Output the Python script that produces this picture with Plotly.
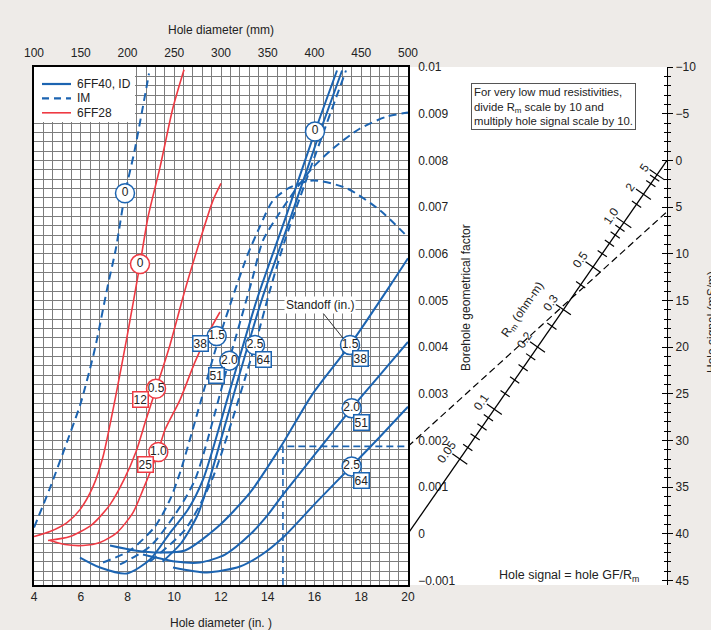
import math
import plotly.graph_objects as go

# ---------------- data ----------------
# hole diameter in inches, borehole geometrical factor (GF)
im0_in = [4.0, 4.7, 5.4, 6.0, 6.6, 7.15, 7.5, 7.9, 8.3, 8.92]
im0_gf = [0.00013, 0.0010, 0.00195, 0.0028, 0.00395, 0.0053, 0.0061, 0.0073, 0.0082, 0.00986]

r0_in = [4.0, 4.684, 5.412, 5.968, 6.524, 6.952, 7.465, 7.979, 8.535, 8.877, 9.390, 9.947, 10.417]
r0_gf = [-0.000062, 0.000045, 0.000237, 0.000515, 0.001007, 0.001649, 0.002868, 0.004215, 0.005776, 0.006781, 0.007848, 0.009131, 0.009943]

r05_in = [4.599, 5.540, 6.481, 7.251, 7.850, 8.364, 8.791, 9.219, 9.818, 10.460, 11.102, 11.658, 12.000]
r05_gf = [-0.000147, -0.000062, 0.000194, 0.000622, 0.001156, 0.001755, 0.002440, 0.003103, 0.004045, 0.005221, 0.006287, 0.007142, 0.007506]

r10_in = [4.684, 5.326, 6.096, 6.824, 7.551, 8.235, 8.663, 9.305, 9.604, 10.246, 10.888, 11.529, 11.957]
r10_gf = [-0.000147, -0.000233, -0.000254, -0.000190, 0.000024, 0.000451, 0.000943, 0.001756, 0.002226, 0.002868, 0.003681, 0.004365, 0.004750]

s15_in = [7.251, 8.321, 9.390, 10.460, 11.829, 13.241, 14.610, 15.893, 17.519, 19.358, 20.0]
s15_gf = [-0.000254, -0.000361, -0.000404, -0.000361, 0.000130, 0.000878, 0.001906, 0.002975, 0.004045, 0.005410, 0.005902]

s20_in = [8.663, 10.032, 11.102, 12.171, 13.241, 14.011, 14.652, 16.107, 17.604, 18.802, 20.0]
s20_gf = [-0.000447, -0.000596, -0.000618, -0.000447, -0.000019, 0.000409, 0.000836, 0.001756, 0.002697, 0.003403, 0.004109]

s25_in = [9.947, 11.401, 12.813, 13.754, 14.652, 16.107, 17.604, 18.802, 20.0]
s25_gf = [-0.000725, -0.000832, -0.000703, -0.000447, -0.000083, 0.000687, 0.001456, 0.002077, 0.002719]

sa_in = [5.968, 6.824, 7.979, 8.963, 9.818, 10.588, 11.230, 12.385, 13.540, 14.738, 16.021, 16.963]
sa_gf = [-0.000511, -0.000725, -0.000853, -0.000553, 0.000019, 0.000516, 0.001156, 0.003082, 0.005024, 0.006735, 0.008618, 0.009925]

sb_in = [9.5, 10.3, 11.0, 11.5, 12.6, 13.75, 14.95, 16.24, 17.18]
sb_gf = [-0.0006, -0.0002, 0.0004, 0.00115, 0.00308, 0.005024, 0.006735, 0.008618, 0.009925]

im15_in = [6.952, 8.107, 9.176, 9.818, 10.246, 11.273, 11.786, 12.470, 13.112, 13.668, 14.225, 14.952, 15.936, 17.390, 18.802, 20.0]
im15_gf = [-0.000618, -0.000361, 0.000152, 0.000730, 0.001306, 0.003082, 0.003980, 0.005024, 0.005943, 0.006585, 0.007142, 0.007420, 0.007570, 0.007399, 0.006928, 0.006351]

im20_in = [7.679, 8.963, 10.032, 10.888, 12.342, 13.326, 13.797, 14.439, 15.166, 15.893, 16.791, 17.947, 19.102, 20.0]
im20_gf = [-0.000660, -0.000275, 0.000409, 0.001156, 0.003702, 0.005432, 0.006287, 0.006822, 0.007356, 0.007827, 0.008254, 0.008682, 0.008939, 0.009024]

im25_in = [8.963, 10.460, 11.615, 13.455, 14.096, 14.738, 17.348]
im25_gf = [-0.000596, 0.000083, 0.001156, 0.004045, 0.005219, 0.006287, 0.009925]

# standoff labels: circles (inches) and boxes (mm)
circ_text = ["0", "0", "0.5", "1.0", "1.5", "2.0", "2.5", "0", "1.5", "2.0", "2.5"]
circ_in = [7.893, 8.535, 9.219, 9.318, 11.816, 12.355, 13.455, 16.021, 17.519, 17.591, 17.591]
circ_gf = [0.007295, 0.005776, 0.003103, 0.001749, 0.004236, 0.003708, 0.004044, 0.008618, 0.004045, 0.002690, 0.001441]
circ_red = [False, True, True, True, False, False, False, False, False, False, False]

box_text = ["12", "25", "38", "51", "64", "38", "51", "64"]
box_in = [8.535, 8.779, 11.102, 11.816, 13.810, 17.947, 18.019, 18.019]
box_gf = [0.002868, 0.001478, 0.004080, 0.003381, 0.003723, 0.003760, 0.002382, 0.001136]
box_red = [True, True, False, False, False, False, False, False]

# legend entries
legend_names = ["6FF40, ID", "IM", "6FF28"]

# worked example
ex_hole_in = 14.65
ex_gf = 0.00187
ex_rm = 0.34

# Rm scale
rm_major = [0.05, 0.1, 0.2, 0.3, 0.5, 1.0, 2, 5]
rm_major_text = ["0.05", "0.1", "0.2", "0.3", "0.5", "1.0", "2", "5"]
rm_minor = [0.06, 0.07, 0.08, 0.09, 0.12, 0.14, 0.16, 0.18, 0.25, 0.4, 0.6, 0.7, 0.8, 0.9, 1.5, 3, 4]

# hole signal scale (mS/m)
sig_ticks = [-10, -5, 0, 5, 10, 15, 20, 25, 30, 35, 40, 45]

# ---------------- layout geometry ----------------
W, H = 711, 630
ML, MR, MT, MB = 34, 44, 67, 45
PW = W - ML - MR
PH = H - MT - MB
MAIN_W = 374
split = MAIN_W / PW

X_RANGE = [4, 20]
GF_RANGE = [-0.0011, 0.01]
MM_RANGE = [100, 500]
GF_SIG0 = 0.008        # GF level of the hole-signal zero
SIG_PER_GF = 5000.0    # hole-signal units per GF unit on the right scale
SIG_RANGE = [(GF_SIG0 - GF_RANGE[0]) * SIG_PER_GF, (GF_SIG0 - GF_RANGE[1]) * SIG_PER_GF]

BLUE = "#1c64b1"
RED = "#ee3a43"
DASH = "8px,5px"
FONT = "Liberation Sans, Arial, sans-serif"
TXT = "#222222"


def px_x(px):
    return (px - ML) / PW


def px_y(py):
    return (H - MB - py) / PH


fig = go.Figure()


def curve(xs, ys, color, dash="solid", width=2.0):
    fig.add_trace(go.Scatter(
        x=xs, y=ys, mode="lines", showlegend=False,
        line=dict(color=color, width=width, dash=dash, shape="spline", smoothing=0.7),
        hoverinfo="skip", xaxis="x", yaxis="y"))


curve(s15_in, s15_gf, BLUE)
curve(s20_in, s20_gf, BLUE)
curve(s25_in, s25_gf, BLUE)
curve(sa_in, sa_gf, BLUE)
curve(sb_in, sb_gf, BLUE)
curve(im0_in, im0_gf, BLUE, dash=DASH)
curve(im15_in, im15_gf, BLUE, dash=DASH)
curve(im20_in, im20_gf, BLUE, dash=DASH)
curve(im25_in, im25_gf, BLUE, dash=DASH)
curve(r0_in, r0_gf, RED, width=1.6)
curve(r05_in, r05_gf, RED, width=1.6)
curve(r10_in, r10_gf, RED, width=1.6)

# example dashed construction in chart
fig.add_trace(go.Scatter(x=[ex_hole_in, ex_hole_in, X_RANGE[1]], y=[GF_RANGE[0], ex_gf, ex_gf],
                         mode="lines", line=dict(color=BLUE, width=1.6, dash="7px,4px"),
                         showlegend=False, hoverinfo="skip"))

# circles
fig.add_trace(go.Scatter(
    x=circ_in, y=circ_gf, mode="markers+text", text=circ_text, textposition="middle center",
    textfont=dict(size=12, color=TXT, family=FONT),
    marker=dict(symbol="circle", size=19, color="white",
                line=dict(color=[RED if r else BLUE for r in circ_red], width=1.5)),
    showlegend=False, hoverinfo="skip"))

annotations = []
shapes = []
for t, xx, yy, r in zip(box_text, box_in, box_gf, box_red):
    annotations.append(dict(x=xx, y=yy, xref="x", yref="y", text=t, showarrow=False,
                            font=dict(size=12, color=TXT, family=FONT), bgcolor="white",
                            bordercolor=RED if r else BLUE, borderwidth=1.5, borderpad=0))

# "Standoff (in.)" with leader
fig.add_trace(go.Scatter(x=[16.36, 17.22], y=[0.00473, 0.00419], mode="lines",
                         line=dict(color="#333", width=1), showlegend=False, hoverinfo="skip"))
annotations.append(dict(x=16.24, y=0.0049, xref="x", yref="y", text="Standoff (in.)",
                        showarrow=False, font=dict(size=12, color=TXT, family=FONT), bgcolor="white"))

# ---------------- nomogram ----------------
# x2 in [0,1]: 0 = GF axis, 1 = hole signal axis; y4 shares the GF scale
def rm_t(rm):
    return 5 * rm / (1 + 5 * rm)

px_per_x2 = PW - MAIN_W
px_per_gf = PH / (GF_RANGE[1] - GF_RANGE[0])
dx_px = px_per_x2
dy_px = GF_SIG0 * px_per_gf
tick_angle = math.degrees(math.atan2(dx_px, dy_px))
line_angle = math.degrees(math.atan2(dy_px, dx_px))

fig.add_trace(go.Scatter(x=[0, 1], y=[0, GF_SIG0], mode="lines", line=dict(color="black", width=1.3),
                         xaxis="x2", yaxis="y4", showlegend=False, hoverinfo="skip"))
ex_sig = 1000 * ex_gf / ex_rm
fig.add_trace(go.Scatter(x=[0, 1], y=[ex_gf, GF_SIG0 - ex_sig / SIG_PER_GF], mode="lines",
                         line=dict(color="black", width=1.2, dash="7px,4px"),
                         xaxis="x2", yaxis="y4", showlegend=False, hoverinfo="skip"))
for vals, sz in ((rm_major, 13), (rm_minor, 8)):
    ts = [rm_t(v) for v in vals]
    fig.add_trace(go.Scatter(x=ts, y=[GF_SIG0 * t for t in ts], mode="markers",
                             marker=dict(symbol="line-ew", size=sz, angle=tick_angle,
                                         line=dict(color="black", width=1.2)),
                             xaxis="x2", yaxis="y4", showlegend=False, hoverinfo="skip"))
for v, txt in zip(rm_major, rm_major_text):
    t = rm_t(v)
    annotations.append(dict(x=t, y=GF_SIG0 * t, xref="x2", yref="y4", text=txt, showarrow=False,
                            textangle=-line_angle, xshift=-13, yshift=7,
                            font=dict(size=12, color=TXT, family=FONT)))
t_lab = rm_t(0.243)
annotations.append(dict(x=t_lab, y=GF_SIG0 * t_lab, xref="x2", yref="y4", text="R<sub>m</sub> (ohm-m)",
                        showarrow=False, textangle=-line_angle, xshift=-27, yshift=19,
                        font=dict(size=12, color=TXT, family=FONT)))

# dummy traces so overlay axes render
fig.add_trace(go.Scatter(x=[1, 1], y=[sig_ticks[0], sig_ticks[-1]], mode="lines",
                         line=dict(color="rgba(0,0,0,0)"), xaxis="x2", yaxis="y2",
                         showlegend=False, hoverinfo="skip"))
fig.add_trace(go.Scatter(x=[1, 1], y=[sig_ticks[0], sig_ticks[-1]], mode="lines",
                         line=dict(color="rgba(0,0,0,0)"), xaxis="x2", yaxis="y3",
                         showlegend=False, hoverinfo="skip"))
fig.add_trace(go.Scatter(x=MM_RANGE, y=[0, 0], mode="lines", line=dict(color="rgba(0,0,0,0)"),
                         xaxis="x3", yaxis="y", showlegend=False, hoverinfo="skip"))

# ---------------- legend (drawn box) ----------------
shapes.append(dict(type="rect", xref="paper", yref="paper", x0=0, x1=px_x(135), y0=px_y(122), y1=1,
                   fillcolor="white", line=dict(width=0), layer="above"))
leg_styles = [(BLUE, "solid", 2.2), (BLUE, "7px,5px", 2.2), (RED, "solid", 1.6)]
for i, (name, (col, dsh, wd)) in enumerate(zip(legend_names, leg_styles)):
    yy = px_y(84 + 14.4 * i)
    shapes.append(dict(type="line", xref="paper", yref="paper", x0=px_x(42), x1=px_x(71), y0=yy, y1=yy,
                       line=dict(color=col, width=wd, dash=dsh), layer="above"))
    annotations.append(dict(x=px_x(75), y=yy, xref="paper", yref="paper", text=name, showarrow=False,
                            xanchor="left", yanchor="middle", font=dict(size=12, color=TXT, family=FONT)))

# texts
annotations.append(dict(x=px_x(221), y=px_y(30), xref="paper", yref="paper",
                        xanchor="center", yanchor="middle", text="Hole diameter (mm)", showarrow=False,
                        font=dict(size=12, color=TXT, family=FONT)))
annotations.append(dict(x=px_x(553.7), y=px_y(106.3), xref="paper", yref="paper",
                        xanchor="center", yanchor="middle",
                        text="For very low mud resistivities,<br>divide R<sub>m</sub> scale by 10 and<br>multiply hole signal scale by 10.",
                        align="left", showarrow=False, bgcolor="white", bordercolor="#555",
                        borderwidth=1, borderpad=2, font=dict(size=11.3, color=TXT, family=FONT)))
annotations.append(dict(x=px_x(569), y=px_y(575.7), xref="paper", yref="paper",
                        xanchor="center", yanchor="middle",
                        text="Hole signal = hole GF/R<sub>m</sub>", showarrow=False,
                        font=dict(size=12.5, color=TXT, family=FONT)))
annotations.append(dict(x=px_x(466), y=px_y(298), xref="paper", yref="paper",
                        xanchor="center", yanchor="middle",
                        text="Borehole geometrical factor", textangle=-90, showarrow=False,
                        font=dict(size=12, color=TXT, family=FONT)))
annotations.append(dict(x=px_x(712), y=px_y(322), xref="paper", yref="paper",
                        xanchor="center", yanchor="middle",
                        text="Hole signal (mS/m)", textangle=-90, showarrow=False,
                        font=dict(size=12, color=TXT, family=FONT)))

gf_ticks = [-0.001 + 0.001 * i for i in range(12)]
gf_text = ["\u22120.001", "0", "0.001", "0.002", "0.003", "0.004", "0.005", "0.006", "0.007", "0.008", "0.009", "0.01"]
GRID = "#7d7d7d"

fig.update_layout(
    width=W, height=H, margin=dict(l=ML, r=MR, t=MT, b=MB),
    paper_bgcolor="#eeebe8", plot_bgcolor="white",
    font=dict(family=FONT, size=12, color=TXT),
    showlegend=False,
    xaxis=dict(domain=[0, split], range=X_RANGE, tick0=4, dtick=2, showgrid=True, gridcolor=GRID,
               gridwidth=1, minor=dict(tick0=4, dtick=0.4, showgrid=True, gridcolor=GRID, gridwidth=1),
               showline=True, mirror=True, linecolor="black", linewidth=1.5, zeroline=False,
               ticks="", title=dict(text="Hole diameter (in. )", standoff=15, font=dict(size=12)),
               automargin=False, anchor="y"),
    yaxis=dict(domain=[0, 1], range=GF_RANGE, tickvals=gf_ticks, ticktext=gf_text, side="right",
               showgrid=True, gridcolor=GRID, gridwidth=1,
               minor=dict(tick0=0, dtick=0.0002, showgrid=True, gridcolor=GRID, gridwidth=1),
               showline=True, mirror=True, linecolor="black", linewidth=1.5, zeroline=False,
               ticks="", ticklabelstandoff=6, automargin=False, anchor="x"),
    xaxis3=dict(range=MM_RANGE, overlaying="x", side="top", anchor="y", tick0=100, dtick=50,
                showgrid=False, ticks="", showline=False, zeroline=False, ticklabelstandoff=7,
                automargin=False),
    xaxis2=dict(domain=[split, 1], range=[0, 1], visible=False, anchor="y4", fixedrange=True),
    yaxis4=dict(domain=[0, 1], range=GF_RANGE, visible=False, anchor="x2"),
    yaxis2=dict(range=SIG_RANGE, overlaying="y4", anchor="x2", side="right", tickvals=sig_ticks,
                ticktext=[str(v).replace("-", "\u2212") for v in sig_ticks],
                ticks="outside", ticklen=5, tickwidth=1.3, tickcolor="black",
                minor=dict(dtick=1, ticks="outside", ticklen=3, tickwidth=1, tickcolor="black"),
                showline=True, linecolor="black", linewidth=1.3, showgrid=False, zeroline=False,
                ticklabelstandoff=0, automargin=False),
    yaxis3=dict(range=SIG_RANGE, overlaying="y4", anchor="x2", side="right", tickvals=sig_ticks,
                showticklabels=False, ticks="inside", ticklen=5, tickwidth=1.3, tickcolor="black",
                minor=dict(dtick=1, ticks="inside", ticklen=3, tickwidth=1, tickcolor="black"),
                showline=False, showgrid=False, zeroline=False, automargin=False),
    annotations=annotations,
    shapes=shapes,
)

fig.write_html("out.html", config={"displayModeBar": False},
               post_script="document.body.style.margin='0px';")
